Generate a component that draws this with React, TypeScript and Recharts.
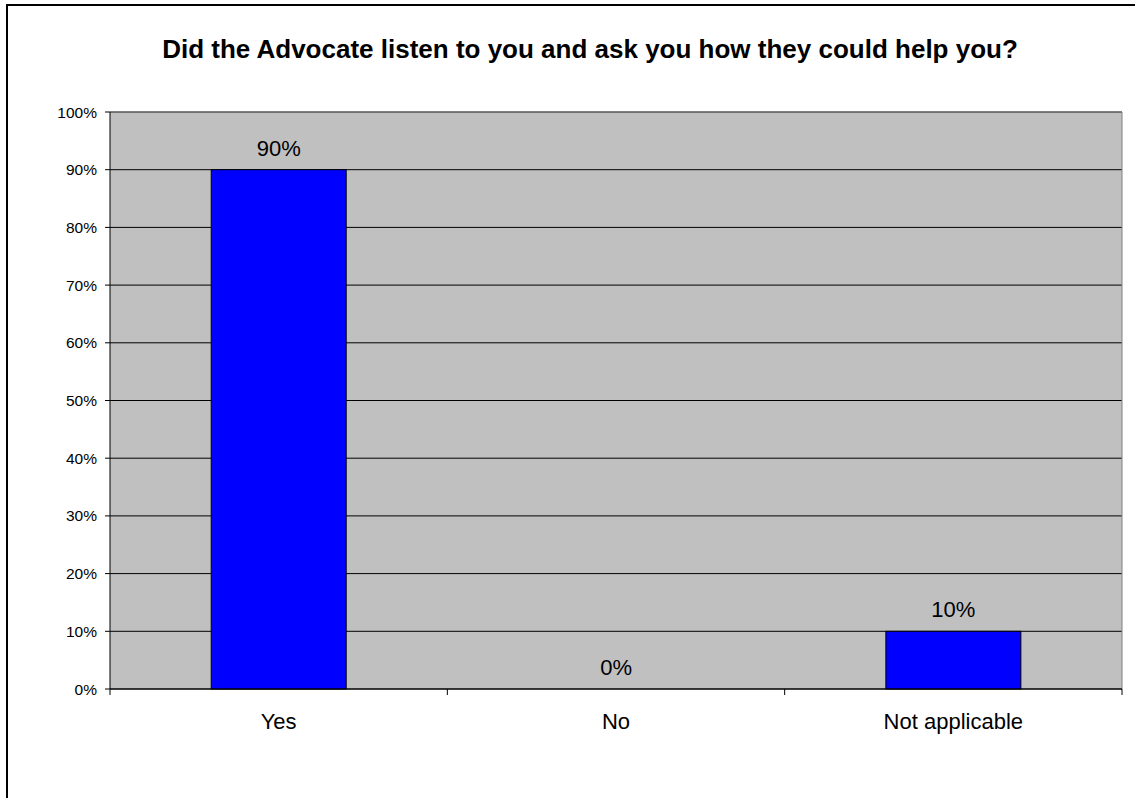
import { BarChart, Bar, XAxis, YAxis, CartesianGrid, ReferenceLine } from "recharts";

const categories = ["Yes", "No", "Not applicable"];
const percents = [90, 0, 10];
const yTicks = [0, 10, 20, 30, 40, 50, 60, 70, 80, 90, 100];

const data = categories.map((name, i) => ({ name, value: percents[i] }));

const FONT = "'Liberation Sans', Arial, sans-serif";

function CategoryTick(props: any) {
    const { x, y, payload, index } = props;
    const half = payload.offset ?? 168.7;
    return (
        <g>
            <line x1={x - half} y1={y} x2={x - half} y2={y + 6} stroke="#000" />
            {index === categories.length - 1 && (
                <line x1={x + half} y1={y} x2={x + half} y2={y + 6} stroke="#000" />
            )}
            <text x={x} y={y + 40} textAnchor="middle" fontSize={22} fill="#000" fontFamily={FONT}>
                {payload.value}
            </text>
        </g>
    );
}

// bar rect plus its value label, so the 0% label still shows
function BarWithLabel(props: any) {
    const { x, y, width, height, value } = props;
    const v = Array.isArray(value) ? value[1] - value[0] : value;
    return (
        <g>
            {height > 0 && (
                <rect x={x} y={y} width={width} height={height} fill="#0000ff" stroke="#000" strokeWidth={1} />
            )}
            <text x={x + width / 2} y={y - 14} textAnchor="middle" fontSize={22} fill="#000" fontFamily={FONT}>
                {v}%
            </text>
        </g>
    );
}

export default function App() {
    return (
        <div style={{ position: "absolute", left: 0, top: 0, width: 1135, height: 798, overflow: "hidden", background: "#fff", fontFamily: FONT }}>
            <div style={{ position: "absolute", left: 6, top: 4, width: 1200, height: 900, border: "2px solid #000" }} />
            <div style={{ position: "absolute", left: 90, top: 34, width: 1000, textAlign: "center", fontWeight: "bold", fontSize: 26, lineHeight: "30px", whiteSpace: "nowrap", color: "#000" }}>
                Did the Advocate listen to you and ask you how they could help you?
            </div>
            <div style={{ position: "absolute", left: 0, top: 0 }}>
                <BarChart width={1135} height={798} data={data} margin={{ top: 112, right: 13, bottom: 49, left: 50 }} barCategoryGap="30%">
                    <CartesianGrid vertical={false} stroke="#000" fill="#c0c0c0" fillOpacity={1} />
                    <CartesianGrid
                        horizontal={false}
                        stroke="#808080"
                        verticalCoordinatesGenerator={({ offset }: any) => [offset.left + offset.width]}
                    />
                    <ReferenceLine y={100} stroke="#808080" />
                    <XAxis
                        dataKey="name"
                        height={60}
                        stroke="#000"
                        tickLine={false}
                        tickSize={0}
                        tickMargin={0}
                        tick={<CategoryTick />}
                        interval={0}
                    />
                    <YAxis
                        width={60}
                        domain={[0, 100]}
                        ticks={yTicks}
                        interval={0}
                        stroke="#000"
                        tickSize={5}
                        tickMargin={8}
                        tick={{ fontSize: 15.5, fill: "#000", fontFamily: FONT }}
                        tickFormatter={(v: number) => `${v}%`}
                    />
                    <Bar dataKey="value" fill="#0000ff" stroke="#000" strokeWidth={1} shape={<BarWithLabel />} isAnimationActive={false} />
                </BarChart>
            </div>
        </div>
    );
}
